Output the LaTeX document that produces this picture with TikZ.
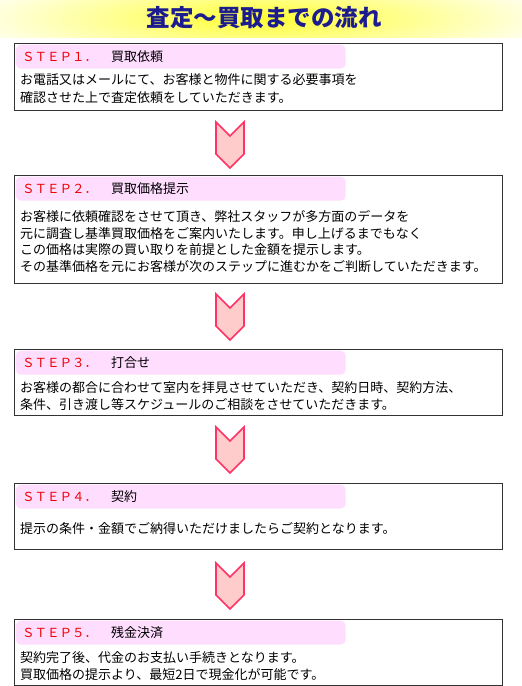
\documentclass[tikz,border=0pt]{standalone}
\usepackage{fontspec}
\setmainfont{Noto Sans CJK JP}
\definecolor{navy}{HTML}{1C1C8E}
\definecolor{framegray}{HTML}{333333}
\definecolor{headpink}{HTML}{FFDDFF}
\definecolor{stepred}{HTML}{F00000}
\definecolor{chevline}{HTML}{FF3366}
\definecolor{chevfill}{HTML}{FFCCCC}
\definecolor{bannery}{HTML}{FFFF33}

\begin{document}
\begin{tikzpicture}[x=1pt, y=-1pt,
  every node/.style={inner sep=0pt, font=\fontsize{13}{17}\selectfont},
  frame/.style={draw=framegray, line width=1.2pt, anchor=north west, minimum width=488pt},
  head/.style={fill=headpink, rounded corners=5pt, anchor=north west, minimum width=330pt, minimum height=24pt},
  steplbl/.style={anchor=west, text=stepred, font=\fontsize{12.5}{14}\selectfont},
  body/.style={anchor=west, align=left},
  chev/.style={draw=chevline, fill=chevfill, line width=1.6pt, line join=miter}]
  \useasboundingbox (0,0) rectangle (522,686);

  % banner
  \begin{scope}
    \clip (0,0) rectangle (522,37);
    \shade[inner color=bannery, outer color=white] (-60,-32) rectangle (582,69);
  \end{scope}
  \node[font=\fontsize{23.5}{26}\bfseries, text=navy] (title) at (264,18) {査定～買取までの流れ};

  % step 1
  \node[frame, minimum height=67pt] (box1) at (14,43) {};
  \node[head] (head1) at (15.5,44.5) {};
  \node[steplbl] (lbl1) at (22,56.5) {ＳＴＥＰ１．};
  \node[anchor=west] (ttl1) at (111,56.5) {買取依頼};
  \node[body, font=\fontsize{13}{18}\selectfont] (txt1) at (20,89)
    {お電話又はメールにて、お客様と物件に関する必要事項を\\確認させた上で査定依頼をしていただきます。};

  % step 2
  \node[frame, minimum height=108pt] (box2) at (14,175) {};
  \node[head] (head2) at (15.5,176.5) {};
  \node[steplbl] (lbl2) at (22,189) {ＳＴＥＰ２．};
  \node[anchor=west] (ttl2) at (111,189) {買取価格提示};
  \node[body, font=\fontsize{13}{16.5}\selectfont] (txt2) at (20,241.5)
    {お客様に依頼確認をさせて頂き、弊社スタッフが多方面のデータを\\元に調査し基準買取価格をご案内いたします。申し上げるまでもなく\\この価格は実際の買い取りを前提とした金額を提示します。\\その基準価格を元にお客様が次のステップに進むかをご判断していただきます。};

  % step 3
  \node[frame, minimum height=66pt] (box3) at (14,349) {};
  \node[head] (head3) at (15.5,350.5) {};
  \node[steplbl] (lbl3) at (22,362.5) {ＳＴＥＰ３．};
  \node[anchor=west] (ttl3) at (111,362.5) {打合せ};
  \node[body] (txt3) at (20,396.5)
    {お客様の都合に合わせて室内を拝見させていただき、契約日時、契約方法、\\条件、引き渡し等スケジュールのご相談をさせていただきます。};

  % step 4
  \node[frame, minimum height=66pt] (box4) at (14,483) {};
  \node[head] (head4) at (15.5,484.5) {};
  \node[steplbl] (lbl4) at (22,496.5) {ＳＴＥＰ４．};
  \node[anchor=west] (ttl4) at (111,496.5) {契約};
  \node[body] (txt4) at (20,529) {提示の条件・金額でご納得いただけましたらご契約となります。};

  % step 5
  \node[frame, minimum height=66pt] (box5) at (14,619) {};
  \node[head] (head5) at (15.5,620.5) {};
  \node[steplbl] (lbl5) at (22,632.5) {ＳＴＥＰ５．};
  \node[anchor=west] (ttl5) at (111,632.5) {残金決済};
  \node[body] (txt5) at (20,666.5)
    {契約完了後、代金のお支払い手続きとなります。\\買取価格の提示より、最短2日で現金化が可能です。};

  % chevrons between the steps
  \foreach \t/\n in {122/1, 294/2, 427/3, 563/4} {
    \coordinate (chev\n) at (230,\t);
    \draw[chev] (chev\n) ++(-14,0) -- ++(14,14) -- ++(14,-14) -- ++(0,32) -- ++(-14,14) -- ++(-14,-14) -- cycle;
  }
\end{tikzpicture}
\end{document}
